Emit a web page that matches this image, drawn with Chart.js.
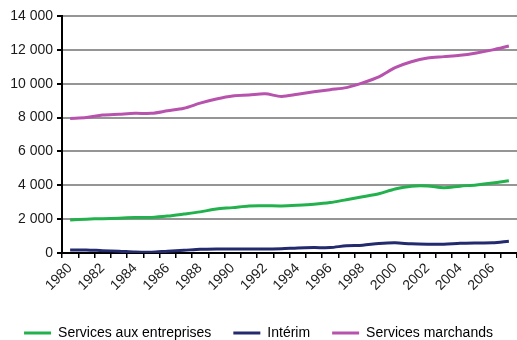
<!DOCTYPE html>
<html>
<head>
<meta charset="utf-8">
<script src="https://cdn.jsdelivr.net/npm/chart.js@4.4.1/dist/chart.umd.min.js"></script>
<style>
  html, body { margin: 0; padding: 0; background: #fff; }
  #wrap { width: 517px; height: 340px; }
</style>
</head>
<body>
<div id="wrap"><canvas id="chart" width="517" height="340"></canvas></div>
<script>
const years = [];
for (let y = 1980; y <= 2007; y++) years.push(String(y));

// valeurs
const servicesEntreprises = [1950, 2000, 2030, 2060, 2090, 2100, 2180, 2300, 2430, 2600, 2680, 2780, 2790, 2780, 2820, 2880, 2980, 3150, 3320, 3500, 3780, 3950, 3960, 3860, 3950, 4020, 4130, 4270];
const interim = [180, 180, 140, 110, 60, 50, 110, 160, 220, 240, 240, 240, 240, 250, 300, 320, 320, 430, 460, 560, 600, 540, 520, 520, 570, 590, 600, 700];
const servicesMarchands = [7950, 8000, 8150, 8200, 8250, 8250, 8400, 8550, 8850, 9100, 9280, 9330, 9400, 9250, 9380, 9520, 9650, 9770, 10050, 10400, 10950, 11300, 11520, 11600, 11680, 11820, 12000, 12230];

const yTicks = [0, 2000, 4000, 6000, 8000, 10000, 12000, 14000];

const FONT = { family: "'Liberation Sans', Arial, sans-serif", size: 14 };
const fmt = (v) => String(v).replace(/\B(?=(\d{3})+(?!\d))/g, ' ');

function serie(label, data, color) {
  return {
    label: label,
    data: data,
    borderColor: color,
    backgroundColor: color,
    borderWidth: 3,
    pointRadius: 0,
    tension: 0.3,
    fill: false
  };
}

new Chart(document.getElementById('chart'), {
  type: 'line',
  data: {
    labels: years,
    datasets: [
      serie('Services aux entreprises', servicesEntreprises, '#22b14c'),
      serie('Intérim', interim, '#232a6e'),
      serie('Services marchands', servicesMarchands, '#b752ad')
    ]
  },
  options: {
    responsive: false,
    animation: false,
    layout: { padding: { top: 16, right: 0, left: 0, bottom: -10 } },
    plugins: {
      tooltip: { enabled: false },
      legend: {
        position: 'bottom',
        labels: {
          font: FONT,
          color: '#1a1a1a',
          boxWidth: 27,
          boxHeight: 3,
          padding: 22,
          generateLabels: (chart) => chart.data.datasets.map((ds, i) => ({
            text: ds.label,
            fillStyle: ds.borderColor,
            strokeStyle: ds.borderColor,
            lineWidth: 0,
            datasetIndex: i
          }))
        }
      }
    },
    scales: {
      x: {
        offset: true,
        grid: { display: true, drawOnChartArea: false, offset: true, color: '#000', lineWidth: 1.5, tickLength: 5 },
        border: { color: '#000', width: 2 },
        ticks: {
          font: FONT,
          color: '#1a1a1a',
          autoSkip: false,
          maxRotation: 45,
          minRotation: 45,
          padding: 2,
          callback: function (value, index) {
            return index % 2 === 0 ? years[index] : '';
          }
        },
        afterFit: (scale) => {
          scale.height = 51;
          scale.paddingLeft = 0;
          scale.paddingRight = 0;
        }
      },
      y: {
        min: 0,
        max: 14000,
        afterBuildTicks: (scale) => { scale.ticks = yTicks.map((v) => ({ value: v })); },
        grid: { color: '#959595', lineWidth: 2, tickLength: 5, tickColor: '#000' },
        border: { color: '#000', width: 2 },
        ticks: {
          font: FONT,
          color: '#1a1a1a',
          padding: 4,
          callback: (v) => fmt(v)
        },
        afterFit: (scale) => { scale.width = 62; }
      }
    }
  }
});
</script>
</body>
</html>
